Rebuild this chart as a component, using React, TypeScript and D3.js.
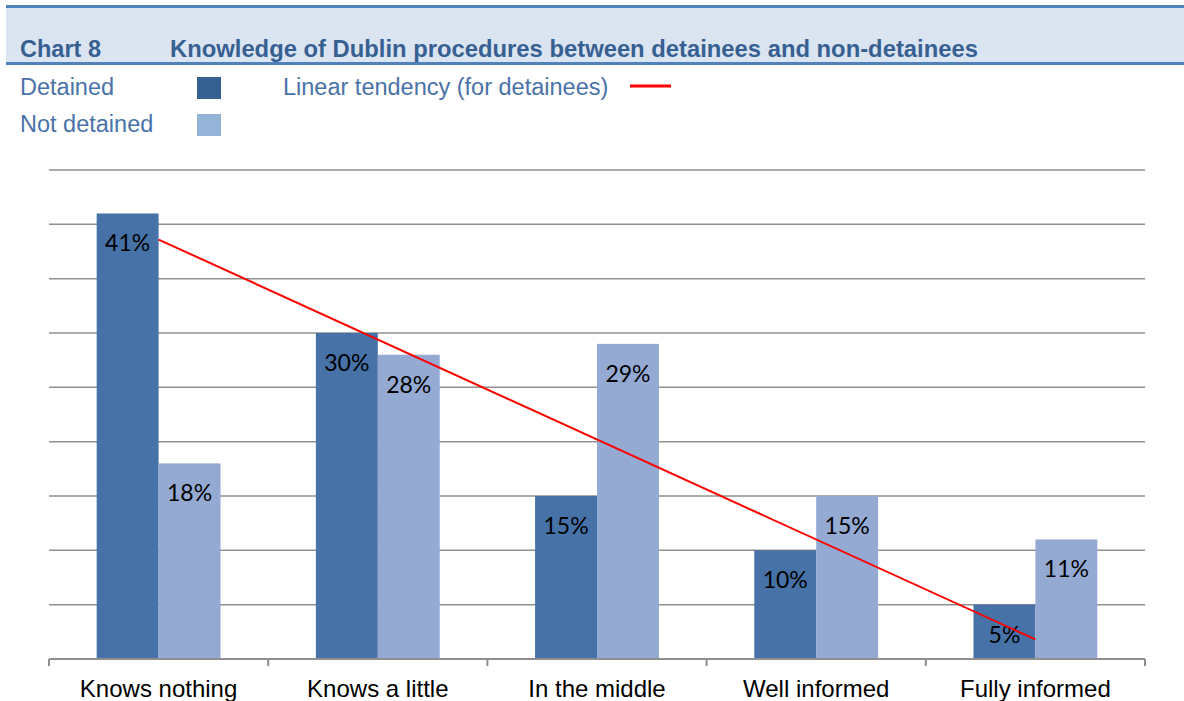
import { useEffect, useRef } from 'react';
import * as d3 from 'd3';

// Chart data
const categories = ['Knows nothing', 'Knows a little', 'In the middle', 'Well informed', 'Fully informed'];
const seriesNames = ['Detained', 'Not detained'];
const detained = [41, 30, 15, 10, 5];
const notDetained = [18, 28, 29, 15, 11];
const yTicks = [0, 5, 10, 15, 20, 25, 30, 35, 40, 45];

const WIDTH = 1184;
const HEIGHT = 701;
const PLOT = { left: 49, right: 1145, top: 170, bottom: 659 };

const BAR_COLORS = ['#4672a8', '#95aad3'];
const LEGEND_COLORS = ['#376092', '#95b3d7'];
const HEAD_BLUE = '#4f81bd';
const TITLE_COLOR = '#376092';
const LEGEND_TEXT = '#4a72a8';
const ARIAL = '"Liberation Sans", Arial, sans-serif';
const LABEL_FONT = 'Lato, "Open Sans", sans-serif';

export default function App() {
  const svgRef = useRef<SVGSVGElement>(null);

  useEffect(() => {
    if (!svgRef.current) return;
    const svg = d3.select(svgRef.current);
    svg.selectAll('*').remove();

    // Header band
    svg.append('rect').attr('x', 6).attr('y', 7).attr('width', WIDTH - 6).attr('height', 57).attr('fill', '#dbe5f1');
    svg.append('rect').attr('x', 6).attr('y', 5).attr('width', WIDTH - 6).attr('height', 3).attr('fill', HEAD_BLUE);
    svg.append('rect').attr('x', 6).attr('y', 62).attr('width', WIDTH - 6).attr('height', 3).attr('fill', HEAD_BLUE);

    svg.append('text')
      .attr('x', 20).attr('y', 57)
      .attr('font-family', ARIAL).attr('font-size', 23.5).attr('font-weight', 700)
      .attr('fill', TITLE_COLOR)
      .text('Chart 8');
    svg.append('text')
      .attr('x', 170).attr('y', 57)
      .attr('font-family', ARIAL).attr('font-size', 23.8).attr('font-weight', 700)
      .attr('fill', TITLE_COLOR)
      .text('Knowledge of Dublin procedures between detainees and non-detainees');

    // Legend
    seriesNames.forEach((name, i) => {
      svg.append('text')
        .attr('x', 20).attr('y', 95 + i * 37)
        .attr('font-family', ARIAL).attr('font-size', 23.5)
        .attr('fill', LEGEND_TEXT)
        .text(name);
      svg.append('rect')
        .attr('x', 197).attr('y', 77 + i * 37)
        .attr('width', 24).attr('height', 22)
        .attr('fill', LEGEND_COLORS[i]);
    });
    svg.append('text')
      .attr('x', 283).attr('y', 95)
      .attr('font-family', ARIAL).attr('font-size', 23.5)
      .attr('fill', LEGEND_TEXT)
      .text('Linear tendency (for detainees)');
    svg.append('line')
      .attr('x1', 630).attr('x2', 671).attr('y1', 86).attr('y2', 86)
      .attr('stroke', '#ff0000').attr('stroke-width', 3);

    // Scales
    const x0 = d3.scaleBand().domain(categories).range([PLOT.left, PLOT.right]).padding(0);
    const x1 = d3.scaleBand().domain(seriesNames).range([0, x0.bandwidth()]).paddingInner(0).paddingOuter(0.77);
    const y = d3.scaleLinear().domain([0, 45]).range([PLOT.bottom, PLOT.top]);

    // Gridlines
    svg.append('g')
      .selectAll('line')
      .data(yTicks.slice(1))
      .enter()
      .append('line')
      .attr('x1', PLOT.left).attr('x2', PLOT.right)
      .attr('y1', (d: number) => y(d)).attr('y2', (d: number) => y(d))
      .attr('stroke', '#8f8f8f').attr('stroke-width', 1.5);

    // Bars
    const values = [detained, notDetained];
    const barGroup = svg.append('g');
    categories.forEach((cat, ci) => {
      seriesNames.forEach((s, si) => {
        const v = values[si][ci];
        const bx = (x0(cat) ?? 0) + (x1(s) ?? 0);
        barGroup.append('rect')
          .attr('x', bx).attr('y', y(v))
          .attr('width', x1.bandwidth()).attr('height', y(0) - y(v))
          .attr('fill', BAR_COLORS[si]);
        barGroup.append('text')
          .attr('x', bx + x1.bandwidth() / 2).attr('y', y(v) + 38)
          .attr('text-anchor', 'middle')
          .attr('font-family', LABEL_FONT).attr('font-size', 23)
          .attr('fill', '#000')
          .text(`${v}%`);
      });
    });

    // Axis
    const axis = svg.append('g');
    axis.append('line')
      .attr('x1', PLOT.left).attr('x2', PLOT.right)
      .attr('y1', PLOT.bottom).attr('y2', PLOT.bottom)
      .attr('stroke', '#8f8f8f').attr('stroke-width', 2);
    const edges = categories.map(c => x0(c) ?? 0).concat([PLOT.right]);
    axis.selectAll('.tick')
      .data(edges)
      .enter()
      .append('line')
      .attr('x1', (d: number) => d).attr('x2', (d: number) => d)
      .attr('y1', PLOT.bottom).attr('y2', PLOT.bottom + 7)
      .attr('stroke', '#8f8f8f').attr('stroke-width', 2);
    axis.selectAll('.cat')
      .data(categories)
      .enter()
      .append('text')
      .attr('x', (d: string) => (x0(d) ?? 0) + x0.bandwidth() / 2)
      .attr('y', 697)
      .attr('text-anchor', 'middle')
      .attr('font-family', ARIAL).attr('font-size', 24)
      .attr('fill', '#000')
      .text((d: string) => d);

    // Linear trend for detainees (least squares over category index)
    const xs = detained.map((_, i) => i + 1);
    const mx = d3.mean(xs) as number;
    const my = d3.mean(detained) as number;
    const slope = d3.sum(xs.map((xv, i) => (xv - mx) * (detained[i] - my))) / d3.sum(xs.map(xv => (xv - mx) ** 2));
    const fit = (xv: number) => my + slope * (xv - mx);
    const centers = categories.map(c => (x0(c) ?? 0) + x0.bandwidth() / 2);
    svg.append('line')
      .attr('x1', centers[0]).attr('y1', y(fit(1)))
      .attr('x2', centers[centers.length - 1]).attr('y2', y(fit(xs.length)))
      .attr('stroke', '#ff0000').attr('stroke-width', 2);
  }, []);

  return (
    <svg
      ref={svgRef}
      width={WIDTH}
      height={HEIGHT}
      style={{ position: 'absolute', left: 0, top: 0, background: '#ffffff' }}
    />
  );
}
